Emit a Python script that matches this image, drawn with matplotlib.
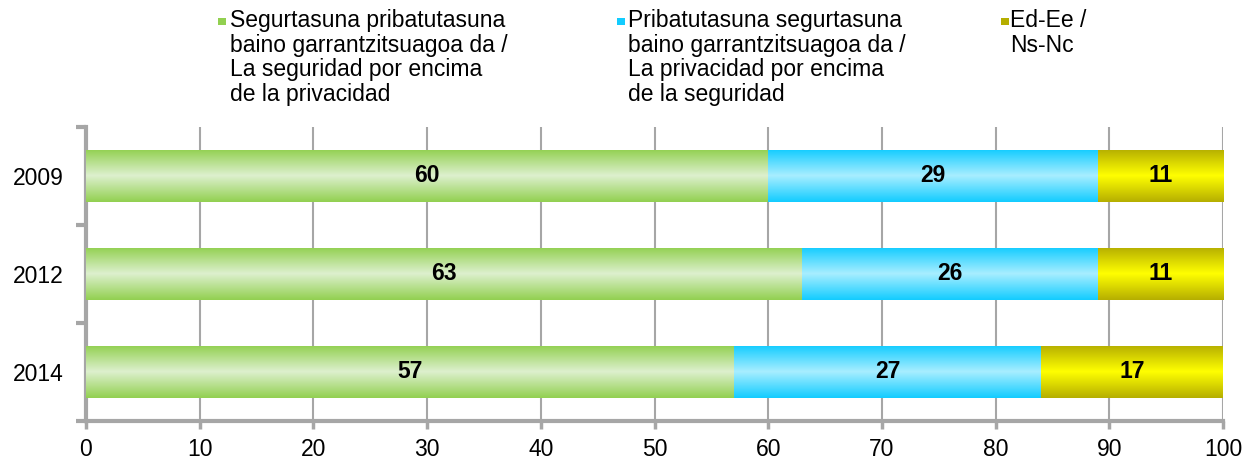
import numpy as np
import matplotlib
matplotlib.use("Agg")
import matplotlib.pyplot as plt
from matplotlib.colors import LinearSegmentedColormap
from matplotlib.patches import Rectangle

years = ["2009", "2012", "2014"]
seguridad = [60, 63, 57]
privacidad = [29, 26, 27]
nsnc = [11, 11, 17]
series_labels = [
    "Segurtasuna pribatutasuna\nbaino garrantzitsuagoa da /\nLa seguridad por encima\nde la privacidad",
    "Pribatutasuna segurtasuna\nbaino garrantzitsuagoa da /\nLa privacidad por encima\nde la seguridad",
    "Ed-Ee /\nNs-Nc",
]
x_ticks = [0, 10, 20, 30, 40, 50, 60, 70, 80, 90, 100]

# (edge colour, centre colour)
grads = [("#92D050", "#DDF0CE"), ("#12CCFF", "#A8EEFF"), ("#B5AE00", "#FFFF00")]

plt.rcParams['font.family'] = ['Liberation Sans', 'DejaVu Sans']
fs = 16.5

fig = plt.figure(figsize=(12.47, 4.59), dpi=100)
ax = fig.add_axes([86/1247, 1-421/459, (1223-86)/1247, (421-127)/459])

grey = "#A6A6A6"
ypos = np.arange(len(years))
h = 0.54
data = [seguridad, privacidad, nsnc]
left = np.zeros(len(years))
grad_img = np.linspace(0, 1, 256).reshape(-1, 1)
for vals, (edge, centre) in zip(data, grads):
    cmap = LinearSegmentedColormap.from_list("g", [edge, centre, edge])
    widths = np.minimum(np.array(vals, dtype=float), 100 - left)
    bars = ax.barh(ypos, widths, left=left, height=h, color="none", edgecolor="none", zorder=3)
    for b, v in zip(bars, vals):
        x0, y0 = b.get_x(), b.get_y()
        w, hh = b.get_width(), b.get_height()
        im = ax.imshow(grad_img, cmap=cmap, aspect="auto",
                       extent=[x0, x0 + w, y0 + hh, y0], zorder=3, interpolation="bilinear")
        im.set_clip_path(b)
        ax.text(x0 + w / 2, y0 + hh / 2, str(v), ha="center", va="center",
                fontsize=fs, fontweight="bold", zorder=5)
    left = left + widths

ax.set_xlim(0, 100)
ax.set_ylim(2.5, -0.5)
ax.set_xticks(x_ticks)
ax.set_xticklabels([str(t) for t in x_ticks], fontsize=fs)
ax.xaxis.grid(True, color=grey, lw=1.5, zorder=0)
ax.set_axisbelow(True)
ax.set_yticks([-0.5, 0.5, 1.5, 2.5])
ax.set_yticklabels([])
ax.set_yticks(ypos, minor=True)
ax.set_yticklabels(years, minor=True, fontsize=fs)
ax.tick_params(axis="y", which="major", length=7, width=3, color=grey)
ax.tick_params(axis="y", which="minor", length=0, pad=16)
ax.tick_params(axis="x", length=6, width=2.5, color=grey, pad=6)
for s in ["top", "right"]:
    ax.spines[s].set_visible(False)
for s in ["left", "bottom"]:
    ax.spines[s].set_color(grey)
    ax.spines[s].set_linewidth(3)

# legend
marker_x = [218, 617, 1001]
text_x = [230, 628, 1010]
for (edge, centre), mx, tx, lab in zip(grads, marker_x, text_x, series_labels):
    fig.patches.append(Rectangle((mx/1247, 1-25/459), 8/1247, 7/459,
                                 transform=fig.transFigure, facecolor=edge,
                                 edgecolor="none"))
    fig.text(tx/1247, 1-9/459, lab, ha="left", va="top", fontsize=fs, linespacing=1.09)

fig.savefig("out.png", dpi=100)
